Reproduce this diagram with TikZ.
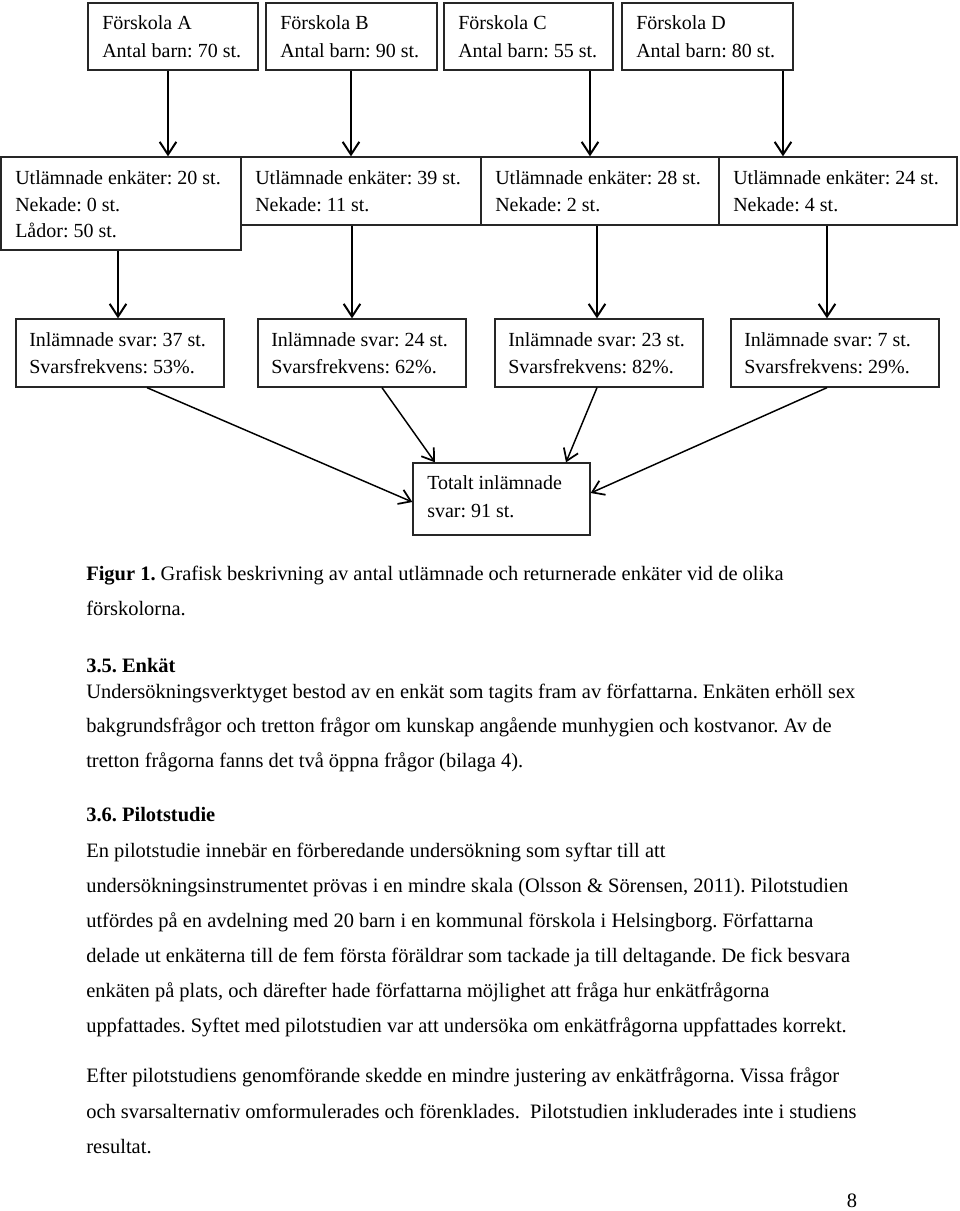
\documentclass[tikz,border=0pt]{standalone}
\usepackage{fontspec}
\setmainfont{Liberation Serif}
\usetikzlibrary{arrows.meta,fit}
\frenchspacing
\begin{document}
\frenchspacing
\begin{tikzpicture}[x=0.75pt,y=-0.75pt,
  box/.style={draw=black!85,line width=1pt,inner sep=0pt},
  txt/.style={anchor=base west,inner sep=0pt,font=\fontsize{15}{20}\selectfont},
  body/.style={anchor=base west,inner sep=0pt,font=\fontsize{15.35}{20}\selectfont},
  arr/.style={line width=1.5pt,-{Straight Barb[length=9.5pt,width=12.5pt,line width=1.5pt]}},
  darr/.style={line width=1.1pt,-{Straight Barb[length=8.5pt,width=11.5pt,line width=1.3pt]}}]
\useasboundingbox (0,0) rectangle (960,1211);
% row 1
\node[box,fit={(88,3) (258,70)}] (fA) {};
\node[box,fit={(266,3) (437,70)}] (fB) {};
\node[box,fit={(444,3) (613,70)}] (fC) {};
\node[box,fit={(622,3) (793,70)}] (fD) {};
\node[txt] (fA1) at (102,29) {Förskola A};
\node[txt] (fA2) at (102,57) {Antal barn: 70 st.};
\node[txt] (fB1) at (280,29) {Förskola B};
\node[txt] (fB2) at (280,57) {Antal barn: 90 st.};
\node[txt] (fC1) at (458,29) {Förskola C};
\node[txt] (fC2) at (458,57) {Antal barn: 55 st.};
\node[txt] (fD1) at (636,29) {Förskola D};
\node[txt] (fD2) at (636,57) {Antal barn: 80 st.};
% row 2
\node[box,fit={(1,157) (241,250)}] (uA) {};
\node[box,fit={(241,157) (481,225)}] (uB) {};
\node[box,fit={(481,157) (719,225)}] (uC) {};
\node[box,fit={(719,157) (957,225)}] (uD) {};
\node[txt] (uA1) at (15,184) {Utlämnade enkäter: 20 st.};
\node[txt] (uA2) at (15,211) {Nekade: 0 st.};
\node[txt] (uA3) at (15,237) {Lådor: 50 st.};
\node[txt] (uB1) at (255,184) {Utlämnade enkäter: 39 st.};
\node[txt] (uB2) at (255,211) {Nekade: 11 st.};
\node[txt] (uC1) at (495,184) {Utlämnade enkäter: 28 st.};
\node[txt] (uC2) at (495,211) {Nekade: 2 st.};
\node[txt] (uD1) at (733,184) {Utlämnade enkäter: 24 st.};
\node[txt] (uD2) at (733,211) {Nekade: 4 st.};
% row 3
\node[box,fit={(16,319) (224,387)}] (iA) {};
\node[box,fit={(258,319) (466,387)}] (iB) {};
\node[box,fit={(495,319) (703,387)}] (iC) {};
\node[box,fit={(731,319) (939,387)}] (iD) {};
\node[txt] (iA1) at (29,346) {Inlämnade svar: 37 st.};
\node[txt] (iA2) at (29,373) {Svarsfrekvens: 53\%.};
\node[txt] (iB1) at (271,346) {Inlämnade svar: 24 st.};
\node[txt] (iB2) at (271,373) {Svarsfrekvens: 62\%.};
\node[txt] (iC1) at (508,346) {Inlämnade svar: 23 st.};
\node[txt] (iC2) at (508,373) {Svarsfrekvens: 82\%.};
\node[txt] (iD1) at (744,346) {Inlämnade svar: 7 st.};
\node[txt] (iD2) at (744,373) {Svarsfrekvens: 29\%.};
% total
\node[box,fit={(413,463) (590,535)}] (tot) {};
\node[txt] (tot1) at (427,489) {Totalt inlämnade};
\node[txt] (tot2) at (427,517) {svar: 91 st.};
% arrows row1 -> row2
\draw[arr] (168,0 |- fA.south) -- (168,0 |- uA.north);
\draw[arr] (351,0 |- fB.south) -- (351,0 |- uB.north);
\draw[arr] (590,0 |- fC.south) -- (590,0 |- uC.north);
\draw[arr] (783,0 |- fD.south) -- (783,0 |- uD.north);
% arrows row2 -> row3
\draw[arr] (118,0 |- uA.south) -- (118,0 |- iA.north);
\draw[arr] (352,0 |- uB.south) -- (352,0 |- iB.north);
\draw[arr] (597,0 |- uC.south) -- (597,0 |- iC.north);
\draw[arr] (827,0 |- uD.south) -- (827,0 |- iD.north);
% arrows to total
\draw[darr] (147,0 |- iA.south) -- (tot.west |- 0,502);
\draw[darr] (382,0 |- iB.south) -- (435,0 |- tot.north);
\draw[darr] (597,0 |- iC.south) -- (566,0 |- tot.north);
\draw[darr] (827,0 |- iD.south) -- (tot.east |- 0,493);
% body text
\node[body] (l1) at (86,580) {\textbf{Figur 1.} Grafisk beskrivning av antal utlämnade och returnerade enkäter vid de olika};
\node[body] (l2) at (86,615) {förskolorna.};
\node[body] (l3) at (86,672) {\textbf{3.5. Enkät}};
\node[body] (l4) at (86,698) {Undersökningsverktyget bestod av en enkät som tagits fram av författarna. Enkäten erhöll sex};
\node[body] (l5) at (86,732) {bakgrundsfrågor och tretton frågor om kunskap angående munhygien och kostvanor. Av de};
\node[body] (l6) at (86,767) {tretton frågorna fanns det två öppna frågor (bilaga 4).};
\node[body] (l7) at (86,821) {\textbf{3.6. Pilotstudie}};
\node[body] (l8) at (86,857) {En pilotstudie innebär en förberedande undersökning som syftar till att};
\node[body] (l9) at (86,892) {undersökningsinstrumentet prövas i en mindre skala (Olsson \& Sörensen, 2011). Pilotstudien};
\node[body] (l10) at (86,927) {utfördes på en avdelning med 20 barn i en kommunal förskola i Helsingborg. Författarna};
\node[body] (l11) at (86,962) {delade ut enkäterna till de fem första föräldrar som tackade ja till deltagande. De fick besvara};
\node[body] (l12) at (86,997) {enkäten på plats, och därefter hade författarna möjlighet att fråga hur enkätfrågorna};
\node[body] (l13) at (86,1032) {uppfattades. Syftet med pilotstudien var att undersöka om enkätfrågorna uppfattades korrekt.};
\node[body] (l14) at (86,1082) {Efter pilotstudiens genomförande skedde en mindre justering av enkätfrågorna. Vissa frågor};
\node[body] (l15) at (86,1118) {och svarsalternativ omformulerades och förenklades.\ \ Pilotstudien inkluderades inte i studiens};
\node[body] (l16) at (86,1153) {resultat.};
\node[body,anchor=base] (pg) at (852,1207) {8};
\end{tikzpicture}
\end{document}
